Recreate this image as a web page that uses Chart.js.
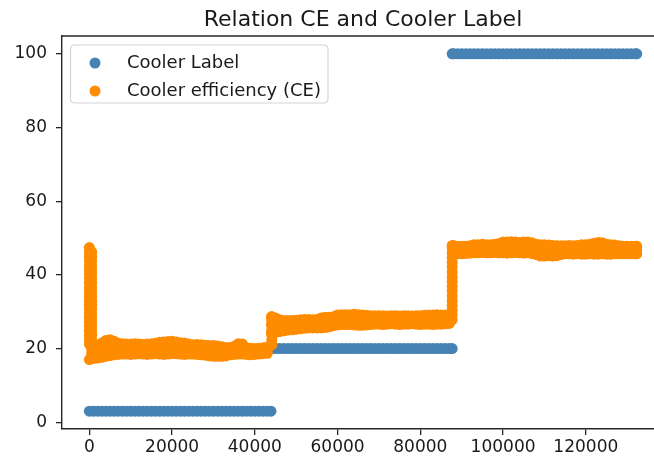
<!DOCTYPE html>
<html>
<head>
<meta charset="utf-8">
<title>Relation CE and Cooler Label</title>
<script src="https://cdn.jsdelivr.net/npm/chart.js@4.4.1/dist/chart.umd.min.js"></script>
<style>
  html, body { margin: 0; padding: 0; background: #fff; overflow: hidden; }
  #wrap { width: 654px; height: 465px; overflow: hidden; }
  canvas { display: block; }
</style>
</head>
<body>
<div id="wrap"><canvas id="chart" width="680" height="465"></canvas></div>
<script>
// ---- data (row index in thousands of rows) ----
const ROWS_PER_K = 1000;

const rowK = [
  0,1,2,3,4,5,6,7,8,9,10,11,12,13,14,15,16,17,18,19,
  20,21,22,23,24,25,26,27,28,29,30,31,32,33,34,35,36,37,38,39,
  40,41,42,43,44,45,46,47,48,49,50,51,52,53,54,55,56,57,58,59,
  60,61,62,63,64,65,66,67,68,69,70,71,72,73,74,75,76,77,78,79,
  80,81,82,83,84,85,86,87,88,89,90,91,92,93,94,95,96,97,98,99,
  100,101,102,103,104,105,106,107,108,109,110,111,112,113,114,115,116,117,118,119,
  120,121,122,123,124,125,126,127,128,129,130,131,132
];

// Cooler label at each sampled row
const coolerLabel = [
  3,3,3,3,3,3,3,3,3,3,3,3,3,3,3,3,3,3,3,3,
  3,3,3,3,3,3,3,3,3,3,3,3,3,3,3,3,3,3,3,3,
  3,3,3,3,20,20,20,20,20,20,20,20,20,20,20,20,20,20,20,20,
  20,20,20,20,20,20,20,20,20,20,20,20,20,20,20,20,20,20,20,20,
  20,20,20,20,20,20,20,20,100,100,100,100,100,100,100,100,100,100,100,100,
  100,100,100,100,100,100,100,100,100,100,100,100,100,100,100,100,100,100,100,100,
  100,100,100,100,100,100,100,100,100,100,100,100,100
];
// label rows around the switch points and the last row
const labelEdgeK = [43.9, 87.7, 87.7, 132.3];
const labelEdgeValue = [3, 20, 100, 100];

// Cooler efficiency: upper, middle and lower readings of the band at each sampled row
const ceHigh = [
  47.4,20.0,20.8,21.5,22.2,22.4,22.0,21.4,21.3,21.2,21.2,
  21.3,21.2,21.1,21.2,21.3,21.4,21.7,21.8,21.9,22.0,
  21.8,21.6,21.5,21.2,21.0,21.1,21.0,20.9,20.8,20.8,
  20.7,20.5,20.3,20.3,20.6,21.3,21.2,20.2,20.1,20.0,
  20.1,20.2,20.4,28.6,28.3,27.8,27.6,27.6,27.6,27.7,
  27.8,27.9,27.9,27.8,27.9,28.3,28.5,28.5,28.6,29.1,
  29.2,29.2,29.2,29.3,29.2,29.1,29.0,28.9,28.9,28.9,
  28.9,28.8,28.9,28.9,28.8,28.9,28.9,28.8,28.9,28.9,
  29.0,29.1,29.1,29.2,29.1,29.1,28.9,48.0,47.8,47.8,
  47.8,47.9,48.2,48.2,48.3,48.2,48.2,48.3,48.5,48.9,
  48.9,49.0,48.9,48.8,48.9,48.9,48.7,48.3,48.2,48.2,
  48.1,48.0,47.9,47.9,47.9,48.0,47.9,48.0,48.2,48.2,
  48.3,48.6,48.8,48.7,48.3,48.2,48.1,47.9,47.8,47.8,
  47.8,47.8
];
const ceMid = [
  32.0,18.6,19.1,19.5,20.0,20.2,20.1,19.9,19.9,19.8,19.8,
  19.9,19.9,19.8,19.8,19.9,20.0,20.1,20.1,20.2,20.3,
  20.2,20.0,19.9,19.8,19.7,19.7,19.6,19.5,19.4,19.3,
  19.3,19.2,19.1,19.3,19.5,19.9,19.8,19.3,19.2,19.2,
  19.3,19.4,19.5,26.4,26.3,26.2,26.2,26.3,26.3,26.4,
  26.6,26.7,26.7,26.7,26.7,27.0,27.1,27.2,27.4,27.7,
  27.8,27.8,27.8,27.8,27.7,27.7,27.7,27.7,27.7,27.7,
  27.7,27.7,27.8,27.7,27.6,27.7,27.7,27.7,27.7,27.7,
  27.8,27.8,27.8,27.9,27.8,27.9,27.8,47.0,46.8,46.8,
  46.8,46.9,47.1,47.1,47.2,47.1,47.1,47.2,47.2,47.4,
  47.4,47.5,47.5,47.4,47.4,47.4,47.2,46.9,46.6,46.6,
  46.6,46.5,46.5,46.7,46.8,46.8,46.7,46.8,46.9,46.9,
  47.0,47.1,47.2,47.2,47.0,46.9,46.9,46.8,46.7,46.7,
  46.7,46.7
];
const ceLow = [
  17.0,17.3,17.4,17.6,17.9,18.1,18.3,18.4,18.5,18.5,18.4,
  18.5,18.6,18.5,18.4,18.5,18.6,18.5,18.4,18.5,18.6,
  18.6,18.5,18.4,18.5,18.5,18.4,18.3,18.2,18.0,17.9,
  17.9,17.9,18.0,18.3,18.4,18.5,18.5,18.4,18.3,18.4,
  18.5,18.6,18.7,24.3,24.4,24.6,24.8,25.0,25.1,25.2,
  25.4,25.5,25.6,25.6,25.6,25.6,25.7,25.9,26.2,26.4,
  26.5,26.5,26.5,26.4,26.3,26.3,26.4,26.5,26.6,26.6,
  26.5,26.6,26.7,26.6,26.5,26.6,26.6,26.7,26.6,26.5,
  26.6,26.6,26.5,26.6,26.6,26.7,26.8,45.9,45.7,45.7,
  45.8,45.9,46.0,46.0,46.1,46.0,46.0,46.1,46.0,46.0,
  45.9,46.0,46.1,46.0,45.9,46.0,45.8,45.5,45.1,45.1,
  45.2,45.1,45.2,45.5,45.7,45.7,45.6,45.7,45.6,45.6,
  45.7,45.6,45.6,45.7,45.6,45.6,45.7,45.7,45.7,45.7,
  45.7,45.7
];
// start-up drop (first few hundred rows), the two step changes and the last rows
const ceExtraK = [
  0,0.55,0,0.55,0,0.55,0,0.55,0,0.55,0,0.55,0,0.55,0,0.55,0,0.55,0,0.55,
  0,0.55,0,0.55,0,0.55,0.55,0,0.55,0,0.55,0,0.55,0,0.55,0,0.55,0,0.55,0,0.55,0,0.55,0,0.55,
  0.55,0.55,0.55,
  44.1,44.1,44.1,44.1,44.1,44.1,44.1,
  87.7,87.7,87.7,87.7,87.7,87.7,87.7,87.7,87.7,87.7,87.7,87.7,87.7,87.7,87.7,87.7,87.7,
  132.3,132.3,132.3
];
const ceExtraValue = [
  46.2,46.2,45.0,45.0,43.8,43.8,42.6,42.6,41.4,41.4,40.2,40.2,39.0,39.0,37.8,37.8,36.6,36.6,35.4,35.4,
  34.2,34.2,33.0,33.0,31.9,31.9,32.0,30.8,30.8,29.6,29.6,28.4,28.4,27.2,27.2,26.0,26.0,24.8,24.8,23.6,23.6,22.4,22.4,21.2,21.2,
  20.0,18.8,17.6,
  21.0,22.3,23.6,25.0,26.4,27.6,28.6,
  27.8,29.1,30.4,31.7,33.0,34.3,35.6,36.9,38.2,39.5,40.8,42.1,43.4,44.7,46.0,47.3,48.0,
  47.8,46.7,45.7
];

const xTicks = [0, 20000, 40000, 60000, 80000, 100000, 120000];
const yTicks = [0, 20, 40, 60, 80, 100];
const xRange = [-6615, 138900];
const yRange = [-1.85, 104.85];

// ---- build point lists ----
const labelPoints = rowK.map((k, i) => ({ x: k * ROWS_PER_K, y: coolerLabel[i] }))
  .concat(labelEdgeK.map((k, i) => ({ x: k * ROWS_PER_K, y: labelEdgeValue[i] })));

const cePoints = [];
rowK.forEach((k, i) => {
  cePoints.push({ x: k * ROWS_PER_K, y: ceHigh[i] });
  cePoints.push({ x: k * ROWS_PER_K, y: ceMid[i] });
  cePoints.push({ x: k * ROWS_PER_K, y: ceLow[i] });
});
ceExtraK.forEach((k, i) => cePoints.push({ x: k * ROWS_PER_K, y: ceExtraValue[i] }));

const BLUE = '#4682b4';
const ORANGE = '#ff8c00';
const FONT = 'DejaVu Sans';
const TEXT = '#1a1a1a';
const AXIS = '#262626';

function markerImage(color) {
  const c = document.createElement('canvas');
  c.width = 12; c.height = 12;
  const g = c.getContext('2d');
  g.fillStyle = color;
  g.beginPath(); g.arc(6, 6, 5.5, 0, Math.PI * 2); g.fill();
  return c;
}
const legendMarkers = [markerImage(BLUE), markerImage(ORANGE)];

// legend box inside the axes (top-left) and the top/right spines
const axesDecor = {
  id: 'axesDecor',
  beforeDraw(chart) {
    const a = chart.chartArea, ctx = chart.ctx, lg = chart.legend;
    lg.left = a.left; lg.top = a.top + 8;
    lg.right = lg.left + 320; lg.bottom = lg.top + 120;
    const x = a.left + 8.5, y = a.top + 9, w = 257.5, h = 58, r = 4;
    ctx.save();
    ctx.beginPath();
    ctx.moveTo(x + r, y);
    ctx.arcTo(x + w, y, x + w, y + h, r);
    ctx.arcTo(x + w, y + h, x, y + h, r);
    ctx.arcTo(x, y + h, x, y, r);
    ctx.arcTo(x, y, x + w, y, r);
    ctx.closePath();
    ctx.fillStyle = 'rgba(255,255,255,0.8)';
    ctx.fill();
    ctx.strokeStyle = '#d4d4d4';
    ctx.lineWidth = 1.2;
    ctx.stroke();
    ctx.restore();
  },
  afterDraw(chart) {
    const a = chart.chartArea, ctx = chart.ctx;
    ctx.save();
    ctx.strokeStyle = AXIS;
    ctx.lineWidth = 1.4;
    ctx.beginPath();
    ctx.moveTo(a.left, a.top); ctx.lineTo(a.right, a.top); ctx.lineTo(a.right, a.bottom);
    ctx.stroke();
    ctx.restore();
  }
};

new Chart(document.getElementById('chart'), {
  type: 'scatter',
  data: {
    datasets: [
      {
        label: 'Cooler Label',
        data: labelPoints,
        backgroundColor: BLUE,
        pointRadius: 5.5,
        pointHoverRadius: 5.5,
        pointBorderWidth: 0,
        order: 2
      },
      {
        label: 'Cooler efficiency (CE)',
        data: cePoints,
        backgroundColor: ORANGE,
        pointRadius: 5.5,
        pointHoverRadius: 5.5,
        pointBorderWidth: 0,
        order: 1
      }
    ]
  },
  options: {
    responsive: false,
    animation: false,
    devicePixelRatio: 1,
    layout: { padding: { left: 0, right: 16, top: 0, bottom: 0 } },
    plugins: {
      tooltip: { enabled: false },
      title: {
        display: true,
        text: 'Relation CE and Cooler Label',
        fullSize: false,
        color: TEXT,
        font: { family: FONT, size: 22, weight: 'normal', lineHeight: 1.2 },
        padding: { top: 7, bottom: 2.6 }
      },
      legend: {
        display: true,
        position: 'chartArea',
        align: 'start',
        labels: {
          usePointStyle: true,
          pointStyleWidth: 46,
          boxHeight: 8,
          padding: 10,
          color: TEXT,
          font: { family: FONT, size: 18 },
          sort: (a, b) => a.datasetIndex - b.datasetIndex,
          generateLabels(chart) {
            const items = Chart.defaults.plugins.legend.labels.generateLabels(chart);
            items.forEach(it => { it.pointStyle = legendMarkers[it.datasetIndex]; });
            return items;
          }
        }
      }
    },
    scales: {
      x: {
        type: 'linear',
        min: xRange[0],
        max: xRange[1],
        afterFit(s) { s.height = 36; },
        afterBuildTicks(s) { s.ticks = xTicks.map(v => ({ value: v })); },
        ticks: {
          color: TEXT,
          font: { family: FONT, size: 17 },
          padding: 2,
          maxRotation: 0,
          autoSkip: false,
          callback: v => String(v)
        },
        grid: { display: true, drawOnChartArea: false, drawTicks: true, tickLength: 6, color: AXIS, lineWidth: 1.3 },
        border: { display: true, color: AXIS, width: 1.4 }
      },
      y: {
        type: 'linear',
        min: yRange[0],
        max: yRange[1],
        afterFit(s) { s.width = 62; },
        afterBuildTicks(s) { s.ticks = yTicks.map(v => ({ value: v })); },
        ticks: {
          color: TEXT,
          font: { family: FONT, size: 17 },
          padding: 9,
          autoSkip: false,
          callback: v => String(v)
        },
        grid: { display: true, drawOnChartArea: false, drawTicks: true, tickLength: 6, color: AXIS, lineWidth: 1.3 },
        border: { display: true, color: AXIS, width: 1.4 }
      }
    }
  },
  plugins: [axesDecor]
});
</script>
</body>
</html>
